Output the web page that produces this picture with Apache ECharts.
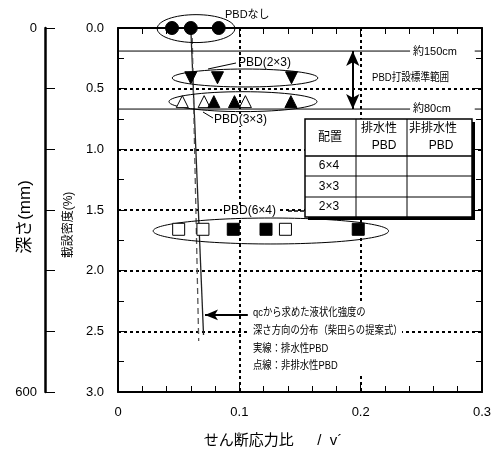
<!DOCTYPE html>
<html><head><meta charset="utf-8">
<script src="https://cdn.jsdelivr.net/npm/echarts@6/dist/echarts.min.js"></script>
<style>html,body{margin:0;padding:0;background:#fff}#c{width:503px;height:459px}</style>
</head><body><div id="c"></div><script>
const FONT = '"Liberation Sans", "Noto Sans CJK JP", sans-serif';
// tick labels
const xTickLabels = ['0', '0.1', '0.2', '0.3'];
const yTickLabels = ['0.0', '0.5', '1.0', '1.5', '2.0', '2.5', '3.0'];
const depthTickLabels = ['0', '', '', '', '', '', '600'];
// series values (x: shear stress ratio, y: depth)
const noneX = [0.0445, 0.060, 0.083];
const noneY = [0.0, 0.0, 0.0];
const pbd23X = [0.060, 0.082, 0.143];
const pbd23Y = [0.41, 0.41, 0.41];
const pbd33OpenX = [0.053, 0.071, 0.105];
const pbd33OpenY = [0.607, 0.607, 0.607];
const pbd33FillX = [0.079, 0.096, 0.1425];
const pbd33FillY = [0.607, 0.607, 0.607];
const pbd64OpenX = [0.050, 0.070, 0.138];
const pbd64OpenY = [1.659, 1.659, 1.659];
const pbd64FillX = [0.095, 0.122, 0.198];
const pbd64FillY = [1.659, 1.659, 1.659];
// strength distribution lines
const solidX = [0.060, 0.0705];
const solidY = [0.0, 2.53];
const dashX = [0.061, 0.0665];
const dashY = [0.0, 2.58];
// PBD depth reference lines
const refLeftX = [0, 0.2407];
const refRightX = [0.294, 0.3];
const ref150Y = 0.19;
const ref80Y = 0.668;
const rangeArrowX = 0.1935;
const noteArrowX = [0.107, 0.0717];
const noteArrowY = 2.365;
// ellipses (center x, center y, radius x, radius y)
const ellCx = [0.0643, 0.1047, 0.103, 0.126];
const ellCy = [0.005, 0.412, 0.607, 1.673];
const ellRx = [0.032, 0.060, 0.061, 0.097];
const ellRy = [0.115, 0.074, 0.082, 0.107];

const zip = (xs, ys) => xs.map((x, i) => [x, ys[i]]);
const chart = echarts.init(document.getElementById('c'), null, {renderer: 'canvas'});

const dotted = {color: '#000', width: 2, type: [3, 3]};
const axisCommon = {
  axisLine: {show: true, onZero: false, lineStyle: {color: '#000', width: 2}},
  axisTick: {show: true, inside: true, length: 7, lineStyle: {color: '#000', width: 1}},
  minorTick: {show: true, length: 6, lineStyle: {color: '#000', width: 1}}
};

const scatter = (name, data, symbol, fill, rotate) => ({
  name, type: 'scatter', data, symbol, symbolSize: symbol === 'circle' ? 13 : 12,
  symbolRotate: rotate || 0, z: 5,
  itemStyle: {color: fill, borderColor: '#000', borderWidth: 1, opacity: 1}
});

const txt = (x, y, text, size, extra) => ({
  type: 'text', x, y, z: 20,
  style: Object.assign({text, fontSize: size, fontFamily: FONT, fill: '#000', align: 'left', verticalAlign: 'middle'}, extra || {})
});
const ntxt = (x, y, text) => Object.assign(txt(x, y, text, 11), {scaleX: 0.85, originX: 0, originY: 0});

const T = {x0: 305, x1: 472, y0: 119, y1: 217, c1: 356, c2: 407, r1: 156, r2: 176, r3: 197};
const tline = (x1, y1, x2, y2, w) => ({type: 'line', z: 31, shape: {x1, y1, x2, y2}, style: {stroke: '#000', lineWidth: w || 1}});

const option = {
  animation: false,
  backgroundColor: '#fff',
  grid: {left: 118, right: 21, top: 28, bottom: 67, containLabel: false, outerBoundsMode: 'none'},
  xAxis: [
    Object.assign({}, axisCommon, {
      type: 'value', min: 0, max: 0.3, interval: 0.1, position: 'bottom',
      minorTick: Object.assign({}, axisCommon.minorTick, {splitNumber: 5}),
      splitLine: {show: true, showMinLine: false, showMaxLine: false, lineStyle: dotted},
      axisLabel: {margin: 14, fontSize: 13, color: '#000', fontFamily: FONT,
        formatter: (v, i) => xTickLabels[i]},
      name: 'せん断応力比　  /  v´', nameLocation: 'middle', nameGap: 41,
      nameTextStyle: {fontSize: 15, color: '#000', fontFamily: FONT, padding: [0, 54, 0, 0]}
    }),
    Object.assign({}, axisCommon, {
      type: 'value', min: 0, max: 0.3, interval: 0.1, position: 'top',
      minorTick: Object.assign({}, axisCommon.minorTick, {splitNumber: 5}),
      splitLine: {show: false}, axisLabel: {show: false}
    })
  ],
  yAxis: [
    Object.assign({}, axisCommon, {
      type: 'value', min: 0, max: 3, interval: 0.5, inverse: true, position: 'left',
      minorTick: Object.assign({}, axisCommon.minorTick, {splitNumber: 2}),
      splitLine: {show: true, showMinLine: false, showMaxLine: false, lineStyle: dotted},
      axisLabel: {margin: 14, fontSize: 13, color: '#000', fontFamily: FONT,
        formatter: (v, i) => yTickLabels[i]},
      name: '載設密度(%)', nameLocation: 'middle', nameGap: 43, nameRotate: 90,
      nameTextStyle: {fontSize: 12, color: '#000', fontFamily: FONT, padding: [0, 30, 0, 0]}
    }),
    Object.assign({}, axisCommon, {
      type: 'value', min: 0, max: 3, interval: 0.5, inverse: true, position: 'right',
      minorTick: Object.assign({}, axisCommon.minorTick, {splitNumber: 2}),
      splitLine: {show: false}, axisLabel: {show: false}
    }),
    {
      type: 'value', min: 0, max: 600, interval: 100, inverse: true, position: 'left', offset: 73,
      axisLine: {show: true, onZero: false, lineStyle: {color: '#000', width: 2.5}},
      axisTick: {show: true, inside: true, length: 10, lineStyle: {color: '#000', width: 1}},
      splitLine: {show: false},
      axisLabel: {margin: 8, fontSize: 13, color: '#000', fontFamily: FONT,
        formatter: (v, i) => depthTickLabels[i]}
    }
  ],
  series: [
    {type: 'line', data: zip(solidX, solidY), showSymbol: false, symbol: 'none', z: 3,
      lineStyle: {color: '#222', width: 1.3}},
    {type: 'line', data: zip(dashX, dashY), showSymbol: false, symbol: 'none', z: 3,
      lineStyle: {color: '#555', width: 1.3, type: [6, 4]}},
    {type: 'line', data: zip(refLeftX, [ref150Y, ref150Y]), symbol: 'none', z: 3, lineStyle: {color: '#000', width: 1}},
    {type: 'line', data: zip(refRightX, [ref150Y, ref150Y]), symbol: 'none', z: 3, lineStyle: {color: '#000', width: 1}},
    {type: 'line', data: zip(refLeftX, [ref80Y, ref80Y]), symbol: 'none', z: 3, lineStyle: {color: '#000', width: 1}},
    {type: 'line', data: zip(refRightX, [ref80Y, ref80Y]), symbol: 'none', z: 3, lineStyle: {color: '#000', width: 1},
      markLine: {silent: true, animation: false, label: {show: false},
        data: [
          [{coord: [rangeArrowX, ref150Y], symbol: 'arrow', symbolSize: [10, 15]},
           {coord: [rangeArrowX, ref80Y], symbol: 'arrow', symbolSize: [10, 15]}],
          [{coord: [noteArrowX[0], noteArrowY], symbol: 'none'},
           {coord: [noteArrowX[1], noteArrowY], symbol: 'arrow', symbolSize: [8, 13]}]
        ],
        lineStyle: {color: '#000', width: 2, type: 'solid'}}},
    {type: 'custom', z: 4, data: ellCx.map((cx, i) => [cx, ellCy[i], ellRx[i], ellRy[i]]),
      encode: {x: 0, y: 1},
      renderItem: (params, api) => {
        const c = api.coord([api.value(0), api.value(1)]);
        const s = api.size([api.value(2), api.value(3)]);
        return {type: 'ellipse', shape: {cx: c[0], cy: c[1], rx: s[0], ry: s[1]},
          style: {fill: 'none', stroke: '#000', lineWidth: 1}};
      }},
    scatter('PBDなし', zip(noneX, noneY), 'circle', '#000'),
    scatter('PBD(2×3)', zip(pbd23X, pbd23Y), 'triangle', '#000', 180),
    scatter('PBD(3×3) 非排水性', zip(pbd33OpenX, pbd33OpenY), 'triangle', '#fff'),
    scatter('PBD(3×3) 排水性', zip(pbd33FillX, pbd33FillY), 'triangle', '#000'),
    scatter('PBD(6×4) 非排水性', zip(pbd64OpenX, pbd64OpenY), 'rect', '#fff'),
    scatter('PBD(6×4) 排水性', zip(pbd64FillX, pbd64FillY), 'rect', '#000')
  ],
  graphic: [
    {type: 'text', x: 25, y: 217, rotation: Math.PI / 2, z: 20,
      style: {text: '深さ(mm)', fontSize: 17, fontFamily: FONT, fill: '#000', align: 'center', verticalAlign: 'middle'}},
    txt(225, 15, 'PBDなし', 11),
    {type: 'polyline', z: 19, shape: {points: [[208, 69], [236, 63]]}, style: {stroke: '#000', fill: 'none', lineWidth: 1}},
    txt(238, 63, 'PBD(2×3)', 12),
    {type: 'polyline', z: 19, shape: {points: [[203, 112], [213, 118]]}, style: {stroke: '#000', fill: 'none', lineWidth: 1}},
    txt(213, 120, 'PBD(3×3)', 12, {backgroundColor: '#fff', padding: [0, 1]}),
    txt(222, 211, 'PBD(6×4)', 12, {backgroundColor: '#fff', padding: [0, 1]}),
    {type: 'line', z: 19, shape: {x1: 288, y1: 211, x2: 305, y2: 211}, style: {stroke: '#000', lineWidth: 1.5, lineDash: [4, 2]}},
    txt(413, 52, '約150cm', 11),
    txt(413, 109, '約80cm', 11),
    Object.assign(txt(372, 78, 'PBD打設標準範囲', 11), {scaleX: 0.87, originX: 0, originY: 0}),
    {type: 'rect', z: 18, shape: {x: 250, y: 304, width: 152, height: 69}, style: {fill: '#fff'}},
    ntxt(253, 313, 'qcから求めた液状化強度の'),
    ntxt(253, 331, '深さ方向の分布（柴田らの提案式）'),
    ntxt(253, 349, '実線：排水性PBD'),
    ntxt(253, 366, '点線：非排水性PBD'),
    // legend table
    {type: 'rect', z: 29, shape: {x: T.x0 + 3, y: T.y0 + 3, width: T.x1 - T.x0, height: T.y1 - T.y0}, style: {fill: '#000'}},
    {type: 'rect', z: 30, shape: {x: T.x0, y: T.y0, width: T.x1 - T.x0, height: T.y1 - T.y0}, style: {fill: '#fff', stroke: '#000', lineWidth: 1.5}},
    tline(T.c1, T.y0, T.c1, T.y1), tline(T.c2, T.y0, T.c2, T.y1),
    tline(T.x0, T.r1, T.x1, T.r1, 1.5), tline(T.x0, T.r2, T.x1, T.r2), tline(T.x0, T.r3, T.x1, T.r3),
    Object.assign(txt(330, 138, '配置', 12, {align: 'center'}), {z: 32}),
    Object.assign(txt(379, 129, '排水性', 12, {align: 'center'}), {z: 32}),
    Object.assign(txt(384, 146, 'PBD', 12, {align: 'center'}), {z: 32}),
    Object.assign(txt(433, 129, '非排水性', 12, {align: 'center'}), {z: 32}),
    Object.assign(txt(441, 146, 'PBD', 12, {align: 'center'}), {z: 32}),
    Object.assign(txt(329, 166, '6×4', 12, {align: 'center'}), {z: 32}),
    Object.assign(txt(329, 187, '3×3', 12, {align: 'center'}), {z: 32}),
    Object.assign(txt(329, 207, '2×3', 12, {align: 'center'}), {z: 32})
  ]
};
chart.setOption(option);
</script></body></html>
